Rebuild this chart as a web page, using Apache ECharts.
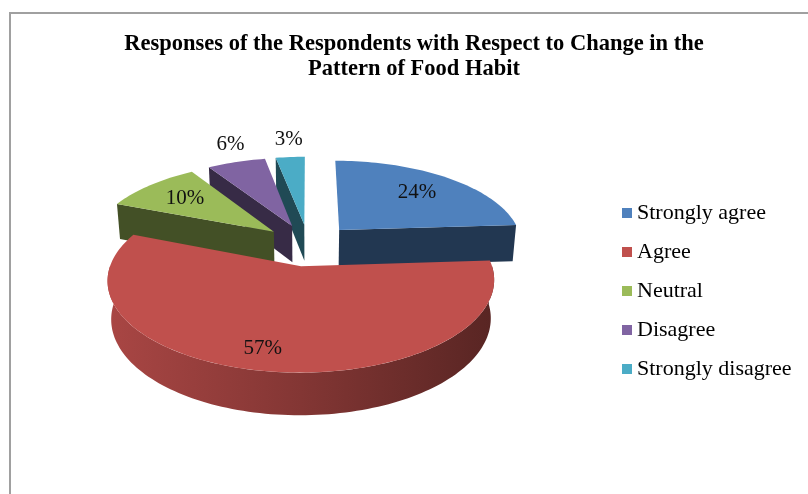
<!DOCTYPE html>
<html>
<head>
<meta charset="utf-8">
<script src="https://cdn.jsdelivr.net/npm/echarts@6/dist/echarts.min.js"></script>
<style>
  html, body { margin: 0; padding: 0; background: #ffffff; }
  #chart { width: 808px; height: 494px; }
</style>
</head>
<body>
<div id="chart"></div>
<script>
// Survey answers and their share of respondents (%)
const categories = ['Strongly agree', 'Agree', 'Neutral', 'Disagree', 'Strongly disagree'];
const percents = [24, 57, 10, 6, 3];
const colors = ['#4F81BD', '#C0504D', '#9BBB59', '#8064A2', '#4BACC6'];
const titleText = 'Responses of the Respondents with Respect to Change in the\nPattern of Food Habit';

// Camera and disc settings for the tilted, exploded 3-D pie
const VIEW = {
  cx: 308.5,        // screen position of the disc centre
  cy: 244.8,
  radius: 184,      // px per unit radius
  tilt: 27,         // degrees the disc is tipped toward the viewer
  dist: 6,          // camera distance (in radii) for perspective
  explode: 0.25,    // how far each slice is pulled out
  depth: 0.23       // slab thickness (in radii)
};
const SERIF = '"Liberation Serif", "Times New Roman", serif';

const rad = d => d * Math.PI / 180;
const total = percents.reduce((a, b) => a + b, 0);

// X: right, Z: toward viewer, Y: up  ->  screen pixel
function project(X, Z, Y) {
  const t = rad(VIEW.tilt);
  const v = Y * Math.cos(t) - Z * Math.sin(t);
  const d = Y * Math.sin(t) + Z * Math.cos(t);
  const s = VIEW.dist / (VIEW.dist - d);
  return [VIEW.cx + VIEW.radius * X * s, VIEW.cy - VIEW.radius * v * s];
}

function shade(hex, f) {
  const n = parseInt(hex.slice(1), 16);
  const c = [(n >> 16) & 255, (n >> 8) & 255, n & 255].map(x => Math.round(Math.min(255, x * f)));
  return 'rgb(' + c.join(',') + ')';
}

// Start/end angles (counter-clockwise degrees) of a slice; slices run clockwise from 12 o'clock
function sliceAngles(idx, value) {
  let before = 0;
  for (let k = 0; k < idx; k++) before += percents[k];
  const hi = 90 - before / total * 360;
  const lo = hi - value / total * 360;
  return { lo, hi, mid: (lo + hi) / 2 };
}

function renderSlice(idx, api) {
  const value = api.value(1);
  const color = colors[idx];
  const { lo, hi, mid } = sliceAngles(idx, value);
  const X0 = VIEW.explode * Math.cos(rad(mid));
  const Z0 = -VIEW.explode * Math.sin(rad(mid));
  const h = VIEW.depth;
  const pt = (deg, r, y) => project(X0 + r * Math.cos(rad(deg)), Z0 - r * Math.sin(rad(deg)), y);
  const arc = (a, b, y) => {
    const n = Math.max(2, Math.ceil(Math.abs(b - a) / 1.5));
    const pts = [];
    for (let i = 0; i <= n; i++) pts.push(pt(a + (b - a) * i / n, 1, y));
    return pts;
  };
  const children = [];

  // cut faces running from the centre to the rim
  const radial = (deg, normal) => {
    if (Math.sin(rad(normal)) >= -0.01) return;
    children.push({
      type: 'polygon',
      shape: { points: [pt(deg, 0, 0), pt(deg, 1, 0), pt(deg, 1, -h), pt(deg, 0, -h)] },
      style: { fill: shade(color, 0.43) }
    });
  };
  radial(lo, lo - 90);
  radial(hi, hi + 90);

  // curved outer wall, only the part turned toward the viewer
  for (let k = -2; k <= 1; k++) {
    const a = Math.max(lo, 180 + 360 * k);
    const b = Math.min(hi, 360 + 360 * k);
    if (b - a <= 0.01) continue;
    const pts = arc(a, b, 0).concat(arc(b, a, -h));
    children.push({
      type: 'polygon',
      shape: { points: pts },
      style: {
        fill: new echarts.graphic.LinearGradient(0, 0, 1, 0, [
          { offset: 0, color: shade(color, 0.88) },
          { offset: 0.5, color: shade(color, 0.68) },
          { offset: 1, color: shade(color, 0.46) }
        ])
      }
    });
  }

  // top face
  children.push({
    type: 'polygon',
    shape: { points: [pt(mid, 0, 0)].concat(arc(lo, hi, 0)) },
    style: { fill: color }
  });

  // percentage label: on the face for large slices, just above the rim for thin ones;
  // the big slice's label sits a little further out toward the front rim
  const inside = value >= 8;
  const big = value > 50;
  const r = inside ? (big ? 0.82 : 0.7) : 1.12;
  const lp = pt(mid - (big ? 3 : 0), r, 0);
  children.push({
    type: 'text',
    x: lp[0], y: lp[1],
    z2: 10,
    style: {
      text: value + '%',
      font: '21px ' + SERIF,
      fill: '#111111',
      align: 'center',
      verticalAlign: inside ? 'middle' : 'bottom'
    }
  });

  return { type: 'group', children };
}

// nearer slices are painted later
const depthOf = i => {
  const { mid } = sliceAngles(i, percents[i]);
  return -VIEW.explode * Math.sin(rad(mid)) - 0.5 * Math.sin(rad(mid));
};
const order = categories.map((_, i) => i).sort((a, b) => depthOf(a) - depthOf(b));

const series = categories.map((name, i) => ({
  type: 'custom',
  name,
  coordinateSystem: 'none',
  z: 2 + order.indexOf(i),
  itemStyle: { color: colors[i] },
  data: [[i, percents[i]]],
  renderItem: (params, api) => renderSlice(i, api)
}));

const chart = echarts.init(document.getElementById('chart'), null, { renderer: 'canvas' });
chart.setOption({
  animation: false,
  backgroundColor: '#ffffff',
  color: colors,
  title: {
    text: titleText,
    left: 414,
    top: 32,
    padding: 0,
    textAlign: 'center',
    textStyle: {
      fontFamily: SERIF,
      fontSize: 22.5,
      fontWeight: 'bold',
      lineHeight: 25,
      color: '#000000'
    }
  },
  legend: {
    orient: 'vertical',
    left: 622,
    top: 202,
    padding: 0,
    icon: 'rect',
    itemWidth: 10,
    itemHeight: 10,
    itemGap: 17,
    data: categories,
    selectedMode: false,
    textStyle: { fontFamily: SERIF, fontSize: 22, lineHeight: 22, color: '#000000', padding: [0, 0, 0, 0] }
  },
  graphic: [{
    type: 'polyline',
    silent: true,
    shape: { points: [[10, 494], [10, 13], [808, 13]] },
    style: { stroke: '#a0a0a0', lineWidth: 2, fill: null }
  }],
  series
});
</script>
</body>
</html>
